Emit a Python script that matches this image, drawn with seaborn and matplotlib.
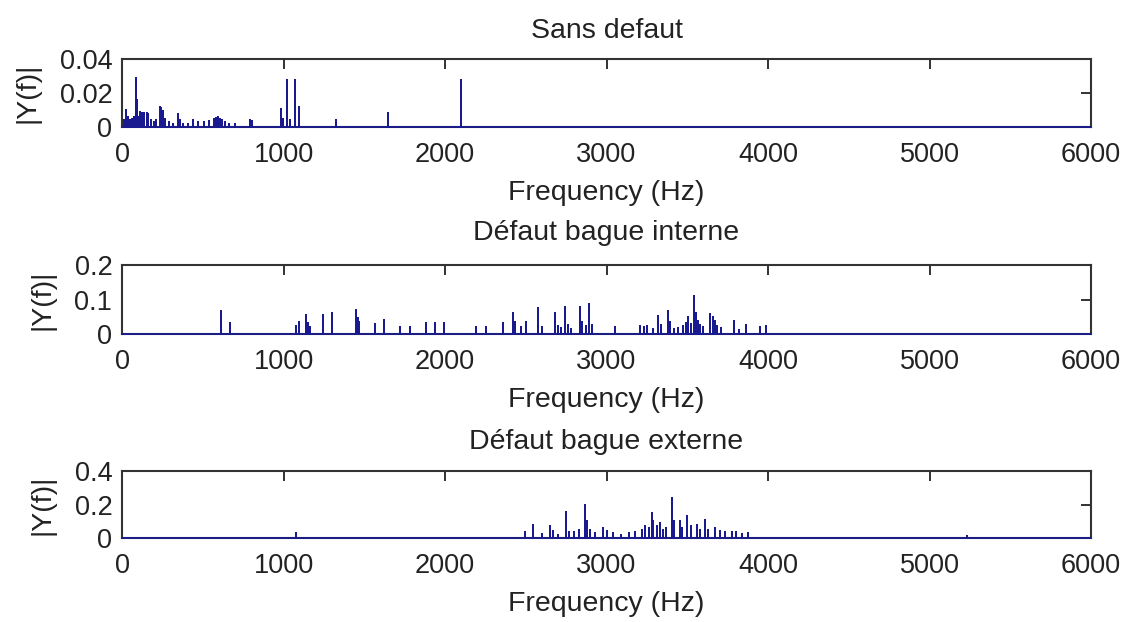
import pandas as pd
import numpy as np
import seaborn as sns
import matplotlib.pyplot as plt

# spectral lines (Hz, |Y(f)|)
titres = ['Sans defaut', 'Défaut bague interne', 'Défaut bague externe']

freq_sain = [10, 22, 36, 50, 62, 72, 84, 92, 104, 113, 126, 139, 152, 163, 178, 195, 210,
             232, 243, 252, 265, 290, 315, 346, 359, 380, 410, 439, 472, 505, 540, 567,
             580, 594, 607, 620, 640, 665, 700, 790, 804, 986, 995, 1023, 1040, 1069,
             1095, 1327, 1647, 2101]
amp_sain = [0.004, 0.010, 0.006, 0.004, 0.005, 0.006, 0.029, 0.016, 0.006, 0.009, 0.0085,
            0.0085, 0.008, 0.0075, 0.004, 0.003, 0.004, 0.012, 0.011, 0.0095, 0.005, 0.003,
            0.002, 0.0075, 0.004, 0.002, 0.002, 0.004, 0.003, 0.003, 0.0035, 0.0045, 0.0055,
            0.006, 0.0047, 0.004, 0.003, 0.002, 0.002, 0.004, 0.0035, 0.0104, 0.005, 0.0276,
            0.004, 0.0276, 0.012, 0.004, 0.0084, 0.0276]

freq_interne = [610, 666, 1079, 1098, 1137, 1153, 1166, 1244, 1302, 1451, 1461, 1470, 1565,
                1620, 1720, 1781, 1885, 1936, 1995, 2194, 2256, 2360, 2421, 2431, 2473,
                2500, 2577, 2600, 2680, 2700, 2720, 2742, 2760, 2780, 2835, 2851, 2870,
                2893, 2910, 3052, 3206, 3231, 3250, 3290, 3320, 3340, 3378, 3395, 3420,
                3440, 3475, 3494, 3507, 3520, 3543, 3552, 3565, 3580, 3600, 3640, 3659,
                3672, 3685, 3710, 3791, 3820, 3861, 3953, 3990]
amp_interne = [0.068, 0.031, 0.024, 0.036, 0.055, 0.031, 0.021, 0.055, 0.062, 0.070, 0.045,
               0.034, 0.029, 0.040, 0.020, 0.020, 0.031, 0.033, 0.031, 0.020, 0.021, 0.031,
               0.060, 0.034, 0.021, 0.034, 0.074, 0.020, 0.060, 0.022, 0.018, 0.079, 0.025,
               0.015, 0.079, 0.034, 0.022, 0.086, 0.025, 0.020, 0.024, 0.019, 0.024, 0.015,
               0.052, 0.025, 0.067, 0.034, 0.015, 0.018, 0.024, 0.033, 0.050, 0.030, 0.110,
               0.062, 0.038, 0.025, 0.020, 0.057, 0.048, 0.038, 0.022, 0.018, 0.038, 0.012,
               0.026, 0.019, 0.022]

freq_externe = [1079, 2494, 2545, 2600, 2653, 2670, 2700, 2752, 2770, 2800, 2830, 2866, 2877,
                2900, 2930, 2979, 3000, 3041, 3090, 3140, 3175, 3217, 3237, 3260, 3279, 3289,
                3310, 3330, 3350, 3370, 3403, 3415, 3454, 3470, 3500, 3520, 3558, 3580, 3609,
                3630, 3671, 3700, 3736, 3777, 3802, 3840, 3877, 5231]
amp_externe = [0.03, 0.036, 0.08, 0.025, 0.074, 0.04, 0.02, 0.155, 0.035, 0.035, 0.05, 0.199,
               0.10, 0.05, 0.03, 0.06, 0.04, 0.03, 0.02, 0.03, 0.036, 0.048, 0.07, 0.06, 0.149,
               0.10, 0.07, 0.09, 0.05, 0.06, 0.239, 0.10, 0.10, 0.06, 0.129, 0.07, 0.077, 0.05,
               0.109, 0.05, 0.06, 0.04, 0.035, 0.035, 0.035, 0.025, 0.03, 0.015]

yticks = [[0, 0.02, 0.04], [0, 0.1, 0.2], [0, 0.2, 0.4]]
ytick_labels = [['0', '0.02', '0.04'], ['0', '0.1', '0.2'], ['0', '0.2', '0.4']]
xticks = [0, 1000, 2000, 3000, 4000, 5000, 6000]


def spectre(freqs, amps):
    # each line goes up from the baseline and back down
    xs, ys = [0], [0]
    for f, a in zip(freqs, amps):
        xs += [f, f, f]
        ys += [0, a, 0]
    xs.append(6000)
    ys.append(0)
    return pd.DataFrame({'Frequency (Hz)': xs, '|Y(f)|': ys})


sns.set_style('white')
plt.rcParams['font.family'] = ['Liberation Sans', 'DejaVu Sans']

fig = plt.figure(figsize=(11.28, 6.22), dpi=100)
positions = [[0.1082, 0.7958, 0.859, 0.1093],
             [0.1082, 0.4630, 0.859, 0.1109],
             [0.1082, 0.1350, 0.859, 0.1077]]
pads = [15, 18, 16]
donnees = [(freq_sain, amp_sain), (freq_interne, amp_interne), (freq_externe, amp_externe)]

for i, (fr, am) in enumerate(donnees):
    ax = fig.add_axes(positions[i])
    df = spectre(fr, am)
    sns.lineplot(data=df, x='Frequency (Hz)', y='|Y(f)|', ax=ax, sort=False,
                 estimator=None, color='#1a1a90', linewidth=1.3)
    # spectrum drawn over the frame so the baseline shows blue
    for ln in ax.lines:
        ln.set_clip_on(False)
        ln.set_zorder(3)
    ax.set_xlim(0, 6000)
    ax.set_ylim(0, yticks[i][-1])
    ax.set_xticks(xticks)
    ax.set_xticklabels([str(t) for t in xticks])
    ax.set_yticks(yticks[i])
    ax.set_yticklabels(ytick_labels[i])
    ax.tick_params(axis='x', pad=10.5)
    ax.tick_params(axis='y', pad=7)
    ax.tick_params(direction='in', top=True, right=True, length=7, width=1.3,
                   labelsize=19.5, colors='#222222')
    for s in ax.spines.values():
        s.set_color('#333333')
        s.set_linewidth(1.5)
    ax.set_title(titres[i], fontsize=20.5, pad=pads[i], color='#222222')
    ax.set_xlabel('Frequency (Hz)', fontsize=20.5, labelpad=9, color='#222222')
    ax.set_ylabel('|Y(f)|', fontsize=20.5, labelpad=14, color='#222222')

fig.savefig('out.png', dpi=100, facecolor='white')
